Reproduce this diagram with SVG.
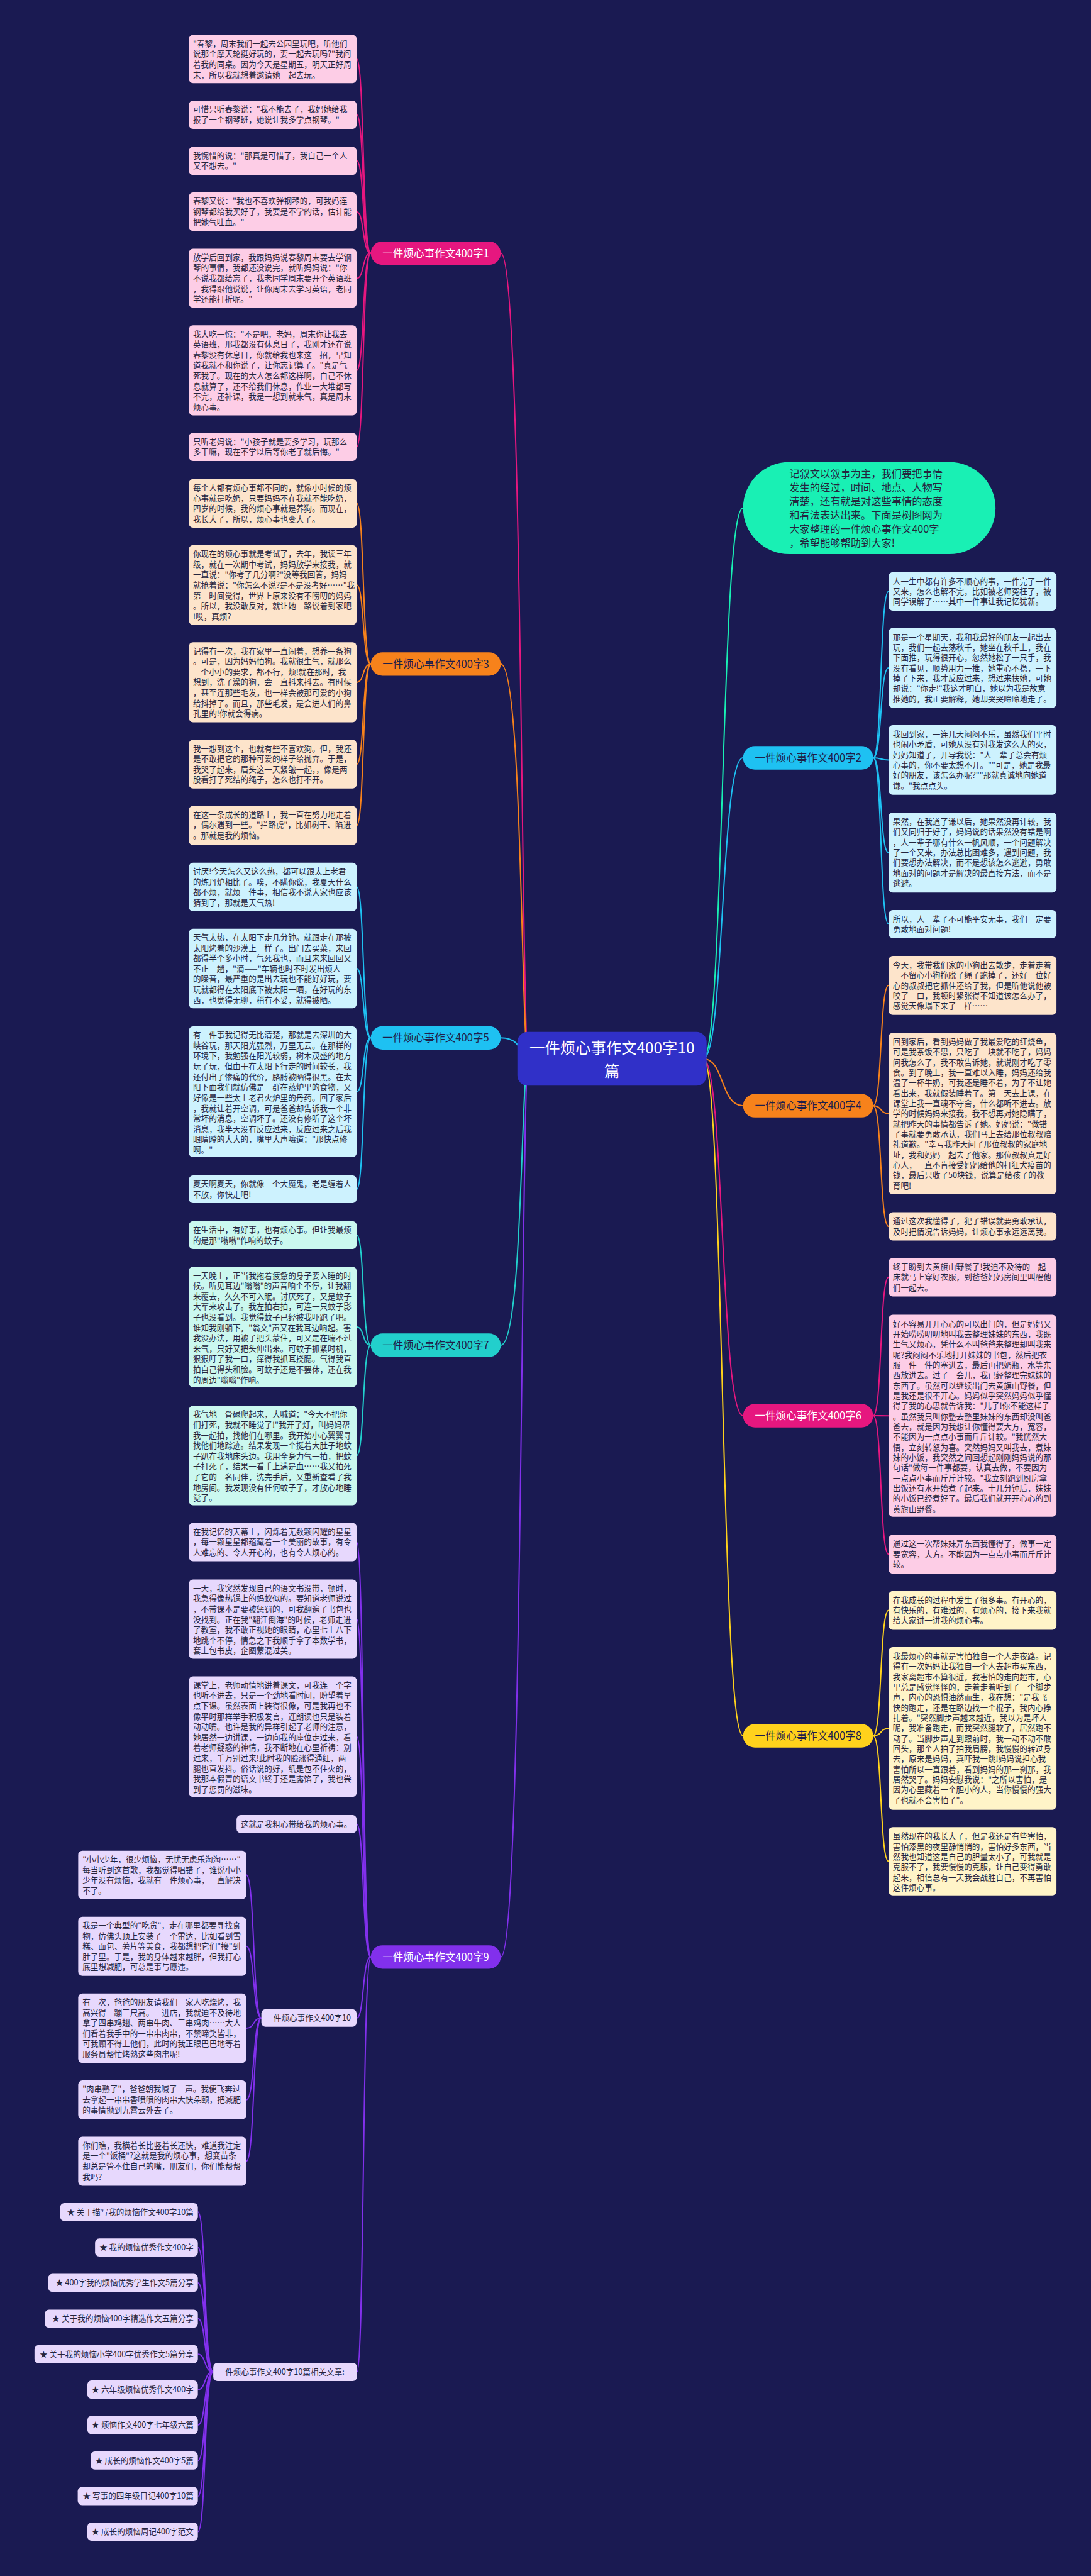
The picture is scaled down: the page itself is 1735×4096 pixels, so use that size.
<svg xmlns="http://www.w3.org/2000/svg" width="1735" height="4096" viewBox="0 0 1735 4096">
<style>
.t{font-family:"Noto Sans CJK SC","Noto Sans CJK JP",sans-serif;font-size:18.6px;fill:#25253e}
.bt{font-family:"Noto Sans CJK SC","Noto Sans CJK JP",sans-serif;font-size:24.5px;text-anchor:middle}
.st{font-family:"Noto Sans CJK SC","Noto Sans CJK JP",sans-serif;font-size:18.6px;fill:#25253e;text-anchor:end}
.w{fill:#ffffff}
.d{fill:#1f1f4a}
.c path{fill:none;stroke-width:3}
.pk rect{fill:#fdcde6}
.pe rect{fill:#fde4cb}
.bl rect{fill:#cdf2fe}
.mi rect{fill:#cbf8ef}
.cr rect{fill:#fff4c8}
.lv rect{fill:#e7d8fd}
</style>
<rect x="0" y="0" width="1735" height="4096" fill="#1a1a52"/>
<g transform="scale(0.67773)">
<g id="connectors" class="c">
<path stroke="#e6177f" d="M1240,2484 C1222,2484 1228,594 1175,594"/>
<path stroke="#f7821b" d="M1240,2484 C1222,2484 1228,1558 1175,1558"/>
<path stroke="#1ec1f2" d="M1240,2484 C1222,2484 1228,2435 1175,2435"/>
<path stroke="#22cfcc" d="M1240,2484 C1222,2484 1228,3156 1175,3156"/>
<path stroke="#8230ec" d="M1240,2484 C1222,2484 1228,4591.5 1175,4591.5"/>
<path stroke="#19f0b4" d="M1650,2484 C1700,2484 1690,1192 1743.6,1192"/>
<path stroke="#1ec1f2" d="M1650,2484 C1700,2484 1690,1778 1743.6,1778"/>
<path stroke="#f7821b" d="M1650,2484 C1700,2484 1690,2594.3 1743.6,2594.3"/>
<path stroke="#e6177f" d="M1650,2484 C1700,2484 1690,3321.5 1743.6,3321.5"/>
<path stroke="#ffd21c" d="M1650,2484 C1700,2484 1690,4072.5 1743.6,4072.5"/>
<g stroke="#e6177f">
<path d="M870,594 C850,594 855,138.5 837,138.5"/>
<path d="M870,594 C850,594 855,269.3 837,269.3"/>
<path d="M870,594 C850,594 855,377.5 837,377.5"/>
<path d="M870,594 C850,594 855,496.8 837,496.8"/>
<path d="M870,594 C850,594 855,652.9 837,652.9"/>
<path d="M870,594 C850,594 855,868.9 837,868.9"/>
<path d="M870,594 C850,594 855,1048.6 837,1048.6"/>
</g>
<g stroke="#f7821b">
<path d="M870,1558 C850,1558 855,1181 837,1181"/>
<path d="M870,1558 C850,1558 855,1372.5 837,1372.5"/>
<path d="M870,1558 C850,1558 855,1600.8 837,1600.8"/>
<path d="M870,1558 C850,1558 855,1792.9 837,1792.9"/>
<path d="M870,1558 C850,1558 855,1936.8 837,1936.8"/>
</g>
<g stroke="#1ec1f2">
<path d="M870,2435 C850,2435 855,2081 837,2081"/>
<path d="M870,2435 C850,2435 855,2272.4 837,2272.4"/>
<path d="M870,2435 C850,2435 855,2561.4 837,2561.4"/>
<path d="M870,2435 C850,2435 855,2790.1 837,2790.1"/>
</g>
<g stroke="#22cfcc">
<path d="M870,3156 C850,3156 855,2897.8 837,2897.8"/>
<path d="M870,3156 C850,3156 855,3113.3 837,3113.3"/>
<path d="M870,3156 C850,3156 855,3414.8 837,3414.8"/>
</g>
<g stroke="#8230ec">
<path d="M870,4591.5 C850,4591.5 855,3618 837,3618"/>
<path d="M870,4591.5 C850,4591.5 855,3798.7 837,3798.7"/>
<path d="M870,4591.5 C850,4591.5 855,4074.5 837,4074.5"/>
<path d="M870,4591.5 C850,4591.5 855,4279.6 837,4279.6"/>
<path d="M870,4591.5 C850,4591.5 855,4734.6 837,4734.6"/>
<path d="M870,4591.5 C850,4591.5 855,5564.9 837.7,5564.9"/>
<path d="M613.3,4734.6 C593,4734.6 598,4398.8 578,4398.8"/>
<path d="M613.3,4734.6 C593,4734.6 598,4566.3 578,4566.3"/>
<path d="M613.3,4734.6 C593,4734.6 598,4758.5 578,4758.5"/>
<path d="M613.3,4734.6 C593,4734.6 598,4926.5 578,4926.5"/>
<path d="M613.3,4734.6 C593,4734.6 598,5070.5 578,5070.5"/>
<path d="M500.4,5564.9 C478,5564.9 484,5189.7 464.3,5189.7"/>
<path d="M500.4,5564.9 C478,5564.9 484,5273 464.3,5273"/>
<path d="M500.4,5564.9 C478,5564.9 484,5356 464.3,5356"/>
<path d="M500.4,5564.9 C478,5564.9 484,5440 464.3,5440"/>
<path d="M500.4,5564.9 C478,5564.9 484,5523.3 464.3,5523.3"/>
<path d="M500.4,5564.9 C478,5564.9 484,5606.4 464.3,5606.4"/>
<path d="M500.4,5564.9 C478,5564.9 484,5689.5 464.3,5689.5"/>
<path d="M500.4,5564.9 C478,5564.9 484,5772.7 464.3,5772.7"/>
<path d="M500.4,5564.9 C478,5564.9 484,5856.3 464.3,5856.3"/>
<path d="M500.4,5564.9 C478,5564.9 484,5939.7 464.3,5939.7"/>
</g>
<g stroke="#1ec1f2">
<path d="M2049,1778 C2070,1778 2064,1387.5 2085,1387.5"/>
<path d="M2049,1778 C2070,1778 2064,1567.1 2085,1567.1"/>
<path d="M2049,1778 C2070,1778 2064,1783.1 2085,1783.1"/>
<path d="M2049,1778 C2070,1778 2064,2000.1 2085,2000.1"/>
<path d="M2049,1778 C2070,1778 2064,2168 2085,2168"/>
</g>
<g stroke="#f7821b">
<path d="M2049,2594.3 C2070,2594.3 2064,2311.9 2085,2311.9"/>
<path d="M2049,2594.3 C2070,2594.3 2064,2612.5 2085,2612.5"/>
<path d="M2049,2594.3 C2070,2594.3 2064,2877.3 2085,2877.3"/>
</g>
<g stroke="#e6177f">
<path d="M2049,3321.5 C2070,3321.5 2064,2996.6 2085,2996.6"/>
<path d="M2049,3321.5 C2070,3321.5 2064,3321.6 2085,3321.6"/>
<path d="M2049,3321.5 C2070,3321.5 2064,3646.4 2085,3646.4"/>
</g>
<g stroke="#ffd21c">
<path d="M2049,4072.5 C2070,4072.5 2064,3778.2 2085,3778.2"/>
<path d="M2049,4072.5 C2070,4072.5 2064,4055.3 2085,4055.3"/>
<path d="M2049,4072.5 C2070,4072.5 2064,4366.8 2085,4366.8"/>
</g>
</g>

<g id="center">
<rect x="1214" y="2421" width="444" height="126" rx="24" fill="#3030c8"/>
<text class="bt w" style="font-size:36px" x="1436" y="2472">一件烦心事作文400字10</text>
<text class="bt w" style="font-size:36px" x="1436" y="2526">篇</text>
</g>

<g id="intro">
<rect x="1743.6" y="1084" width="592.4" height="216" rx="108" fill="#19f0b4"/>
<text class="t" style="font-size:24px" x="1852" y="1120.5"><tspan x="1852">记叙文以叙事为主，我们要把事情</tspan><tspan x="1852" dy="32.3">发生的经过，时间、地点、人物写</tspan><tspan x="1852" dy="32.3">清楚，还有就是对这些事情的态度</tspan><tspan x="1852" dy="32.3">和看法表达出来。下面是树图网为</tspan><tspan x="1852" dy="32.3">大家整理的一件烦心事作文400字</tspan><tspan x="1852" dy="32.3">，希望能够帮助到大家!</tspan></text>
</g>

<g id="b1"><rect x="870" y="566.5" width="305" height="55" rx="27.5" fill="#e6177f"/><text class="bt w" x="1022.5" y="603">一件烦心事作文400字1</text></g>
<g id="b3"><rect x="870" y="1530.5" width="305" height="55" rx="27.5" fill="#f7821b"/><text class="bt d" x="1022.5" y="1567">一件烦心事作文400字3</text></g>
<g id="b5"><rect x="870" y="2407.5" width="305" height="55" rx="27.5" fill="#1ec1f2"/><text class="bt d" x="1022.5" y="2444">一件烦心事作文400字5</text></g>
<g id="b7"><rect x="870" y="3128.5" width="305" height="55" rx="27.5" fill="#22cfcc"/><text class="bt d" x="1022.5" y="3165">一件烦心事作文400字7</text></g>
<g id="b9"><rect x="870" y="4564" width="305" height="55" rx="27.5" fill="#8230ec"/><text class="bt w" x="1022.5" y="4600.5">一件烦心事作文400字9</text></g>
<g id="b2"><rect x="1743.6" y="1750.5" width="305.4" height="55" rx="27.5" fill="#1ec1f2"/><text class="bt d" x="1896.3" y="1787">一件烦心事作文400字2</text></g>
<g id="b4"><rect x="1743.6" y="2566.8" width="305.4" height="55" rx="27.5" fill="#f7821b"/><text class="bt d" x="1896.3" y="2603.3">一件烦心事作文400字4</text></g>
<g id="b6"><rect x="1743.6" y="3294" width="305.4" height="55" rx="27.5" fill="#e6177f"/><text class="bt w" x="1896.3" y="3330.5">一件烦心事作文400字6</text></g>
<g id="b8"><rect x="1743.6" y="4045" width="305.4" height="55" rx="27.5" fill="#ffd21c"/><text class="bt d" x="1896.3" y="4081.5">一件烦心事作文400字8</text></g>

<g id="l1-1" class="pk"><rect x="443" y="82" width="394" height="113" rx="10"/><text class="t" x="453" y="109"><tspan x="453">"春黎，周末我们一起去公园里玩吧，听他们</tspan><tspan x="453" dy="24.5">说那个摩天轮挺好玩的，要一起去玩吗?"我问</tspan><tspan x="453" dy="24.5">着我的同桌。因为今天是星期五，明天正好周</tspan><tspan x="453" dy="24.5">末，所以我就想着邀请她一起去玩。</tspan></text></g>
<g id="l1-2" class="pk"><rect x="443" y="236" width="394" height="66.5" rx="10"/><text class="t" x="453" y="263"><tspan x="453">可惜只听春黎说："我不能去了，我妈她给我</tspan><tspan x="453" dy="24.5">报了一个钢琴班，她说让我多学点钢琴。"</tspan></text></g>
<g id="l1-3" class="pk"><rect x="443" y="344.5" width="394" height="66" rx="10"/><text class="t" x="453" y="371.5"><tspan x="453">我惋惜的说："那真是可惜了，我自己一个人</tspan><tspan x="453" dy="24.5">又不想去。"</tspan></text></g>
<g id="l1-4" class="pk"><rect x="443" y="451.6" width="394" height="90.4" rx="10"/><text class="t" x="453" y="478.6"><tspan x="453">春黎又说："我也不喜欢弹钢琴的，可我妈连</tspan><tspan x="453" dy="24.5">钢琴都给我买好了，我要是不学的话，估计能</tspan><tspan x="453" dy="24.5">把她气吐血。"</tspan></text></g>
<g id="l1-5" class="pk"><rect x="443" y="583.7" width="394" height="138.3" rx="10"/><text class="t" x="453" y="610.7"><tspan x="453">放学后回到家，我跟妈妈说春黎周末要去学钢</tspan><tspan x="453" dy="24.5">琴的事情，我都还没说完，就听妈妈说："你</tspan><tspan x="453" dy="24.5">不说我都给忘了，我老同学周末要开个英语班</tspan><tspan x="453" dy="24.5">，我得跟他说说，让你周末去学习英语，老同</tspan><tspan x="453" dy="24.5">学还能打折呢。"</tspan></text></g>
<g id="l1-6" class="pk"><rect x="443" y="763.3" width="394" height="211.2" rx="10"/><text class="t" x="453" y="790.3"><tspan x="453">我大吃一惊："不是吧，老妈，周末你让我去</tspan><tspan x="453" dy="24.5">英语班，那我都没有休息日了，我刚才还在说</tspan><tspan x="453" dy="24.5">春黎没有休息日，你就给我也来这一招，早知</tspan><tspan x="453" dy="24.5">道我就不和你说了，让你忘记算了。"真是气</tspan><tspan x="453" dy="24.5">死我了。现在的大人怎么都这样啊，自己不休</tspan><tspan x="453" dy="24.5">息就算了，还不给我们休息，作业一大堆都写</tspan><tspan x="453" dy="24.5">不完，还补课，我是一想到就来气，真是周末</tspan><tspan x="453" dy="24.5">烦心事。</tspan></text></g>
<g id="l1-7" class="pk"><rect x="443" y="1015.5" width="394" height="66.1" rx="10"/><text class="t" x="453" y="1042.5"><tspan x="453">只听老妈说："小孩子就是要多学习，玩那么</tspan><tspan x="453" dy="24.5">多干嘛，现在不学以后等你老了就后悔。"</tspan></text></g>

<g id="l3-1" class="pe"><rect x="443" y="1124" width="394" height="114" rx="10"/><text class="t" x="453" y="1151"><tspan x="453">每个人都有烦心事都不同的，就像小时候的烦</tspan><tspan x="453" dy="24.5">心事就是吃奶，只要妈妈不在我就不能吃奶，</tspan><tspan x="453" dy="24.5">四岁的时候，我的烦心事就是养狗。而现在，</tspan><tspan x="453" dy="24.5">我长大了，所以，烦心事也变大了。</tspan></text></g>
<g id="l3-2" class="pe"><rect x="443" y="1279" width="394" height="187" rx="10"/><text class="t" x="453" y="1306"><tspan x="453">你现在的烦心事就是考试了，去年，我读三年</tspan><tspan x="453" dy="24.5">级，就在一次期中考试，妈妈放学来接我，就</tspan><tspan x="453" dy="24.5">一直说："你考了几分啊?"没等我回答，妈妈</tspan><tspan x="453" dy="24.5">就抢着说："你怎么不说?是不是没考好……"我</tspan><tspan x="453" dy="24.5">第一时间觉得，世界上原来没有不唠叨的妈妈</tspan><tspan x="453" dy="24.5">。所以，我没敢反对，就让她一路说着到家吧</tspan><tspan x="453" dy="24.5">!哎，真烦?</tspan></text></g>
<g id="l3-3" class="pe"><rect x="443" y="1507" width="394" height="187.6" rx="10"/><text class="t" x="453" y="1534"><tspan x="453">记得有一次，我在家里一直闹着，想养一条狗</tspan><tspan x="453" dy="24.5">。可是，因为妈妈怕狗。我就很生气，就那么</tspan><tspan x="453" dy="24.5">一个小小的要求，都不行，烦!就在那时，我</tspan><tspan x="453" dy="24.5">想到，洗了澡的狗，会一直抖来抖去。有时候</tspan><tspan x="453" dy="24.5">，甚至连那些毛发，也一样会被那可爱的小狗</tspan><tspan x="453" dy="24.5">给抖掉了。而且，那些毛发，是会进人们的鼻</tspan><tspan x="453" dy="24.5">孔里的!你就会得病。</tspan></text></g>
<g id="l3-4" class="pe"><rect x="443" y="1735.7" width="394" height="114.3" rx="10"/><text class="t" x="453" y="1762.7"><tspan x="453">我一想到这个，也就有些不喜欢狗。但，我还</tspan><tspan x="453" dy="24.5">是不敢把它的那种可爱的样子给抛弃。于是，</tspan><tspan x="453" dy="24.5">我哭了起来，眉头这一天紧皱一起，，像是两</tspan><tspan x="453" dy="24.5">股看打了死结的绳子，怎么也打不开。</tspan></text></g>
<g id="l3-5" class="pe"><rect x="443" y="1891" width="394" height="91.6" rx="10"/><text class="t" x="453" y="1918"><tspan x="453">在这一条成长的道路上，我一直在努力地走着</tspan><tspan x="453" dy="24.5">，偶尔遇到一些。"拦路虎"，比如树干、陷进</tspan><tspan x="453" dy="24.5">。那就是我的烦恼。</tspan></text></g>

<g id="l5-1" class="bl"><rect x="443" y="2024" width="394" height="114" rx="10"/><text class="t" x="453" y="2051"><tspan x="453">讨厌!今天怎么又这么热，都可以跟太上老君</tspan><tspan x="453" dy="24.5">的炼丹炉相比了。唉，不瞒你说，我夏天什么</tspan><tspan x="453" dy="24.5">都不烦，就烦一件事，相信我不说大家也应该</tspan><tspan x="453" dy="24.5">猜到了，那就是天气热!</tspan></text></g>
<g id="l5-2" class="bl"><rect x="443" y="2179" width="394" height="186.7" rx="10"/><text class="t" x="453" y="2206"><tspan x="453">天气太热，在太阳下走几分钟。就跟走在那被</tspan><tspan x="453" dy="24.5">太阳烤着的沙漠上一样了。出门去买菜，来回</tspan><tspan x="453" dy="24.5">都得半个多小时，气死我也，而且来来回回又</tspan><tspan x="453" dy="24.5">不止一趟，"滴——"车辆也时不时发出烦人</tspan><tspan x="453" dy="24.5">的噪音，最严重的是出去玩也不能好好玩，要</tspan><tspan x="453" dy="24.5">玩就都得在太阳底下被太阳一晒，在好玩的东</tspan><tspan x="453" dy="24.5">西，也觉得无聊，稍有不妥，就得被晒。</tspan></text></g>
<g id="l5-3" class="bl"><rect x="443" y="2408" width="394" height="306.8" rx="10"/><text class="t" x="453" y="2435"><tspan x="453">有一件事我记得无比清楚，那就是去深圳的大</tspan><tspan x="453" dy="24.5">峡谷玩，那天阳光强烈，万里无云。在那样的</tspan><tspan x="453" dy="24.5">环境下，我勉强在阳光较弱，树木茂盛的地方</tspan><tspan x="453" dy="24.5">玩了玩，但由于在太阳下行走的时间较长，我</tspan><tspan x="453" dy="24.5">还付出了惨痛的代价，胳膊被晒得很黑。在太</tspan><tspan x="453" dy="24.5">阳下面我们就仿佛是一群在蒸炉里的食物，又</tspan><tspan x="453" dy="24.5">好像是一些太上老君火炉里的丹药。回了家后</tspan><tspan x="453" dy="24.5">，我就让着开空调，可是爸爸却告诉我一个非</tspan><tspan x="453" dy="24.5">常坏的消息，空调坏了。还没有修听了这个坏</tspan><tspan x="453" dy="24.5">消息，我半天没有反应过来，反应过来之后我</tspan><tspan x="453" dy="24.5">眼睛瞪的大大的，嘴里大声嚷道："那快点修</tspan><tspan x="453" dy="24.5">啊。"</tspan></text></g>
<g id="l5-4" class="bl"><rect x="443" y="2757.7" width="394" height="64.8" rx="10"/><text class="t" x="453" y="2784.7"><tspan x="453">夏天啊夏天，你就像一个大魔鬼，老是缠着人</tspan><tspan x="453" dy="24.5">不放，你快走吧!</tspan></text></g>

<g id="l7-1" class="mi"><rect x="443" y="2865" width="394" height="65.5" rx="10"/><text class="t" x="453" y="2892"><tspan x="453">在生活中，有好事，也有烦心事。但让我最烦</tspan><tspan x="453" dy="24.5">的是那"嗡嗡"作响的蚊子。</tspan></text></g>
<g id="l7-2" class="mi"><rect x="443" y="2972" width="394" height="282.6" rx="10"/><text class="t" x="453" y="2999"><tspan x="453">一天晚上，正当我拖着疲惫的身子要入睡的时</tspan><tspan x="453" dy="24.5">候。听见耳边"嗡嗡"的声音响个不停，让我翻</tspan><tspan x="453" dy="24.5">来覆去，久久不可入眠。讨厌死了，又是蚊子</tspan><tspan x="453" dy="24.5">大军来攻击了。我左拍右拍，可连一只蚊子影</tspan><tspan x="453" dy="24.5">子也没看到。我觉得蚊子已经被我吓跑了吧。</tspan><tspan x="453" dy="24.5">谁知我刚躺下，"翁文"声又在我耳边响起。害</tspan><tspan x="453" dy="24.5">我没办法，用被子把头蒙住，可又是在喘不过</tspan><tspan x="453" dy="24.5">来气，只好又把头伸出来。可蚊子抓紧时机，</tspan><tspan x="453" dy="24.5">狠狠叮了我一口，痒得我抓耳挠腮。气得我直</tspan><tspan x="453" dy="24.5">拍自己得头和脸。可蚊子还是不罢休，还在我</tspan><tspan x="453" dy="24.5">的周边"嗡嗡"作响。</tspan></text></g>
<g id="l7-3" class="mi"><rect x="443" y="3298" width="394" height="233.5" rx="10"/><text class="t" x="453" y="3325"><tspan x="453">我气地一骨碌爬起来，大喊道："今天不把你</tspan><tspan x="453" dy="24.5">们打死，我就不睡觉了!"我开了灯，叫妈妈帮</tspan><tspan x="453" dy="24.5">我一起拍，找他们在哪里。我开始小心翼翼寻</tspan><tspan x="453" dy="24.5">找他们地踪迹。结果发现一个挺着大肚子地蚊</tspan><tspan x="453" dy="24.5">子趴在我地床头边。我用全身力气一拍，把蚊</tspan><tspan x="453" dy="24.5">子打死了，结果一看手上满是血……我又拍死</tspan><tspan x="453" dy="24.5">了它的一名同伴，洗完手后，又重新查看了我</tspan><tspan x="453" dy="24.5">地房间。我发现没有任何蚊子了，才放心地睡</tspan><tspan x="453" dy="24.5">觉了。</tspan></text></g>

<g id="l9-1" class="lv"><rect x="443" y="3573" width="394" height="90" rx="10"/><text class="t" x="453" y="3600"><tspan x="453">在我记忆的天幕上，闪烁着无数颗闪耀的星星</tspan><tspan x="453" dy="24.5">，每一颗星星都蕴藏着一个美丽的故事，有令</tspan><tspan x="453" dy="24.5">人难忘的、令人开心的，也有令人烦心的。</tspan></text></g>
<g id="l9-2" class="lv"><rect x="443" y="3705.6" width="394" height="186.2" rx="10"/><text class="t" x="453" y="3732.6"><tspan x="453">一天，我突然发现自己的语文书没带，顿时，</tspan><tspan x="453" dy="24.5">我急得像热锅上的蚂蚁似的。要知道老师说过</tspan><tspan x="453" dy="24.5">，不带课本是要被惩罚的，可我翻遍了书包也</tspan><tspan x="453" dy="24.5">没找到。正在我"翻江倒海"的时候，老师走进</tspan><tspan x="453" dy="24.5">了教室，我不敢正视她的眼睛，心里七上八下</tspan><tspan x="453" dy="24.5">地跳个不停，情急之下我顺手拿了本数学书，</tspan><tspan x="453" dy="24.5">套上包书皮，企图蒙混过关。</tspan></text></g>
<g id="l9-3" class="lv"><rect x="443" y="3933" width="394" height="283" rx="10"/><text class="t" x="453" y="3960"><tspan x="453">课堂上，老师动情地讲着课文，可我连一个字</tspan><tspan x="453" dy="24.5">也听不进去，只是一个劲地看时间，盼望着早</tspan><tspan x="453" dy="24.5">点下课。虽然表面上装得很像，可是我再也不</tspan><tspan x="453" dy="24.5">像平时那样举手积极发言，连朗读也只是装着</tspan><tspan x="453" dy="24.5">动动嘴。也许是我的异样引起了老师的注意，</tspan><tspan x="453" dy="24.5">她居然一边讲课，一边向我的座位走过来，看</tspan><tspan x="453" dy="24.5">着老师疑惑的神情，我不断地在心里祈祷：别</tspan><tspan x="453" dy="24.5">过来，千万别过来!此时我的脸涨得通红，两</tspan><tspan x="453" dy="24.5">腿也直发抖。俗话说的好，纸是包不住火的，</tspan><tspan x="453" dy="24.5">我那本假冒的语文书终于还是露馅了，我也尝</tspan><tspan x="453" dy="24.5">到了惩罚的滋味。</tspan></text></g>
<g id="l9-4" class="lv"><rect x="555" y="4258.4" width="282" height="42.4" rx="10"/><text class="t" x="565" y="4286">这就是我粗心带给我的烦心事。</text></g>
<g id="b10" class="lv"><rect x="613.3" y="4713.8" width="223.4" height="41.5" rx="10"/><text class="t" x="623" y="4741">一件烦心事作文400字10</text></g>

<g id="l10-1" class="lv"><rect x="183.5" y="4341.9" width="394.5" height="113.8" rx="10"/><text class="t" x="193.5" y="4368.9"><tspan x="193.5">"小小少年，很少烦恼，无忧无虑乐淘淘……"</tspan><tspan x="193.5" dy="24.5">每当听到这首歌，我都觉得唱错了，谁说小小</tspan><tspan x="193.5" dy="24.5">少年没有烦恼，我就有一件烦心事，一直解决</tspan><tspan x="193.5" dy="24.5">不了。</tspan></text></g>
<g id="l10-2" class="lv"><rect x="183.5" y="4497" width="394.5" height="138.6" rx="10"/><text class="t" x="193.5" y="4524"><tspan x="193.5">我是一个典型的"吃货"，走在哪里都要寻找食</tspan><tspan x="193.5" dy="24.5">物，仿佛头顶上安装了一个雷达，比如看到雪</tspan><tspan x="193.5" dy="24.5">糕、面包、薯片等美食，我都想把它们"接"到</tspan><tspan x="193.5" dy="24.5">肚子里。于是，我的身体越来越胖，但我打心</tspan><tspan x="193.5" dy="24.5">底里想减肥，可总是事与愿违。</tspan></text></g>
<g id="l10-3" class="lv"><rect x="183.5" y="4677" width="394.5" height="163" rx="10"/><text class="t" x="193.5" y="4704"><tspan x="193.5">有一次，爸爸的朋友请我们一家人吃烧烤，我</tspan><tspan x="193.5" dy="24.5">高兴得一蹦三尺高。一进店，我就迫不及待地</tspan><tspan x="193.5" dy="24.5">拿了四串鸡翅、两串牛肉、三串鸡肉……大人</tspan><tspan x="193.5" dy="24.5">们看着我手中的一串串肉串，不禁啼笑皆非，</tspan><tspan x="193.5" dy="24.5">可我顾不得上他们，此时的我正眼巴巴地等着</tspan><tspan x="193.5" dy="24.5">服务员帮忙烤熟这些肉串呢!</tspan></text></g>
<g id="l10-4" class="lv"><rect x="183.5" y="4881" width="394.5" height="91" rx="10"/><text class="t" x="193.5" y="4908"><tspan x="193.5">"肉串熟了"，爸爸朝我喊了一声。我便飞奔过</tspan><tspan x="193.5" dy="24.5">去拿起一串串香喷喷的肉串大快朵颐，把减肥</tspan><tspan x="193.5" dy="24.5">的事情抛到九霄云外去了。</tspan></text></g>
<g id="l10-5" class="lv"><rect x="183.5" y="5013" width="394.5" height="115" rx="10"/><text class="t" x="193.5" y="5040"><tspan x="193.5">你们瞧，我横着长比竖着长还快，难道我注定</tspan><tspan x="193.5" dy="24.5">是一个"饭桶"?这就是我的烦心事，想变苗条</tspan><tspan x="193.5" dy="24.5">却总是管不住自己的嘴，朋友们，你们能帮帮</tspan><tspan x="193.5" dy="24.5">我吗?</tspan></text></g>

<g id="related" class="lv"><rect x="500.4" y="5543.5" width="337.3" height="42.7" rx="10"/><text class="t" x="510" y="5571.5">一件烦心事作文400字10篇相关文章:</text></g>
<g id="s1" class="lv"><rect x="141" y="5168.7" width="323.3" height="42" rx="10"/><text class="st" x="454.3" y="5196.2">★ 关于描写我的烦恼作文400字10篇</text></g>
<g id="s2" class="lv"><rect x="223" y="5251.8" width="241.3" height="42.4" rx="10"/><text class="st" x="454.3" y="5279.5">★ 我的烦恼优秀作文400字</text></g>
<g id="s3" class="lv"><rect x="113" y="5334.8" width="351.3" height="42.4" rx="10"/><text class="st" x="454.3" y="5362.5">★ 400字我的烦恼优秀学生作文5篇分享</text></g>
<g id="s4" class="lv"><rect x="105" y="5418.8" width="359.3" height="42.4" rx="10"/><text class="st" x="454.3" y="5446.5">★ 关于我的烦恼400字精选作文五篇分享</text></g>
<g id="s5" class="lv"><rect x="80.9" y="5502" width="383.4" height="42.6" rx="10"/><text class="st" x="454.3" y="5529.8">★ 关于我的烦恼小学400字优秀作文5篇分享</text></g>
<g id="s6" class="lv"><rect x="204.9" y="5585" width="259.4" height="42.8" rx="10"/><text class="st" x="454.3" y="5612.9">★ 六年级烦恼优秀作文400字</text></g>
<g id="s7" class="lv"><rect x="204.9" y="5668" width="259.4" height="43" rx="10"/><text class="st" x="454.3" y="5696">★ 烦恼作文400字七年级六篇</text></g>
<g id="s8" class="lv"><rect x="212.7" y="5751.4" width="251.6" height="42.6" rx="10"/><text class="st" x="454.3" y="5779.2">★ 成长的烦恼作文400字5篇</text></g>
<g id="s9" class="lv"><rect x="182.4" y="5835" width="281.9" height="42.6" rx="10"/><text class="st" x="454.3" y="5862.8">★ 写事的四年级日记400字10篇</text></g>
<g id="s10" class="lv"><rect x="204.9" y="5918.4" width="259.4" height="42.6" rx="10"/><text class="st" x="454.3" y="5946.2">★ 成长的烦恼周记400字范文</text></g>

<g id="r2-1" class="bl"><rect x="2085" y="1342.2" width="394" height="90.5" rx="10"/><text class="t" x="2095" y="1370.2"><tspan x="2095">人一生中都有许多不顺心的事，一件完了一件</tspan><tspan x="2095" dy="24.1">又来，怎么也解不完，比如被老师冤枉了，被</tspan><tspan x="2095" dy="24.1">同学误解了……其中一件事让我记忆犹新。</tspan></text></g>
<g id="r2-2" class="bl"><rect x="2085" y="1473.4" width="394" height="187.3" rx="10"/><text class="t" x="2095" y="1501.4"><tspan x="2095">那是一个星期天，我和我最好的朋友一起出去</tspan><tspan x="2095" dy="24.1">玩，我们一起去荡秋千，她坐在秋千上，我在</tspan><tspan x="2095" dy="24.1">下面推，玩得很开心，忽然她松了一只手，我</tspan><tspan x="2095" dy="24.1">没有看见，顺势用力一推，她重心不稳，一下</tspan><tspan x="2095" dy="24.1">掉了下来，我才反应过来，想过来扶她，可她</tspan><tspan x="2095" dy="24.1">却说："你走!"我这才明白，她以为我是故意</tspan><tspan x="2095" dy="24.1">推她的，我正要解释，她却哭哭啼啼地走了。</tspan></text></g>
<g id="r2-3" class="bl"><rect x="2085" y="1701.4" width="394" height="163.4" rx="10"/><text class="t" x="2095" y="1729.4"><tspan x="2095">我回到家，一连几天闷闷不乐，虽然我们平时</tspan><tspan x="2095" dy="24.1">也闹小矛盾，可她从没有对我发这么大的火，</tspan><tspan x="2095" dy="24.1">妈妈知道了，开导我说："人一辈子总会有烦</tspan><tspan x="2095" dy="24.1">心事的，你不要太想不开。""可是，她是我最</tspan><tspan x="2095" dy="24.1">好的朋友，该怎么办呢?""那就真诚地向她道</tspan><tspan x="2095" dy="24.1">谦。"我点点头。</tspan></text></g>
<g id="r2-4" class="bl"><rect x="2085" y="1906.2" width="394" height="187.8" rx="10"/><text class="t" x="2095" y="1934.2"><tspan x="2095">果然，在我道了谦以后，她果然没再计较，我</tspan><tspan x="2095" dy="24.1">们又同归于好了，妈妈说的话果然没有错是啊</tspan><tspan x="2095" dy="24.1">，人一辈子哪有什么一帆风顺，一个问题解决</tspan><tspan x="2095" dy="24.1">了一个又来，办法总比困难多，遇到问题，我</tspan><tspan x="2095" dy="24.1">们要想办法解决，而不是想该怎么逃避，勇敢</tspan><tspan x="2095" dy="24.1">地面对的问题才是解决的最直接方法，而不是</tspan><tspan x="2095" dy="24.1">逃避。</tspan></text></g>
<g id="r2-5" class="bl"><rect x="2085" y="2135" width="394" height="66" rx="10"/><text class="t" x="2095" y="2163"><tspan x="2095">所以，人一辈子不可能平安无事，我们一定要</tspan><tspan x="2095" dy="24.1">勇敢地面对问题!</tspan></text></g>

<g id="r4-1" class="pe"><rect x="2085" y="2242.8" width="394" height="138.2" rx="10"/><text class="t" x="2095" y="2270.8"><tspan x="2095">今天，我带我们家的小狗出去散步，走着走着</tspan><tspan x="2095" dy="24.1">一不留心小狗挣脱了绳子跑掉了，还好一位好</tspan><tspan x="2095" dy="24.1">心的叔叔把它抓住还给了我，但是听他说他被</tspan><tspan x="2095" dy="24.1">咬了一口，我顿时紧张得不知道该怎么办了，</tspan><tspan x="2095" dy="24.1">感觉天像塌下来了一样……</tspan></text></g>
<g id="r4-2" class="pe"><rect x="2085" y="2423" width="394" height="379" rx="10"/><text class="t" x="2095" y="2451"><tspan x="2095">回到家后，看到妈妈做了我最爱吃的红烧鱼，</tspan><tspan x="2095" dy="24.1">可是我茶饭不思，只吃了一块就不吃了，妈妈</tspan><tspan x="2095" dy="24.1">问我怎么了，我不敢告诉她，就说刚才吃了零</tspan><tspan x="2095" dy="24.1">食。到了晚上，我一直难以入睡，妈妈还给我</tspan><tspan x="2095" dy="24.1">温了一杯牛奶，可我还是睡不着，为了不让她</tspan><tspan x="2095" dy="24.1">看出来，我就假装睡着了。第二天去上课，在</tspan><tspan x="2095" dy="24.1">课堂上我一直魂不守舍，什么都听不进去。放</tspan><tspan x="2095" dy="24.1">学的时候妈妈来接我，我不想再对她隐瞒了，</tspan><tspan x="2095" dy="24.1">就把昨天的事情都告诉了她。妈妈说："做错</tspan><tspan x="2095" dy="24.1">了事就要勇敢承认，我们马上去给那位叔叔赔</tspan><tspan x="2095" dy="24.1">礼道歉。"幸亏我昨天问了那位叔叔的家庭地</tspan><tspan x="2095" dy="24.1">址，我和妈妈一起去了他家。那位叔叔真是好</tspan><tspan x="2095" dy="24.1">心人，一直不肯接受妈妈给他的打狂犬疫苗的</tspan><tspan x="2095" dy="24.1">钱，最后只收了50块钱，说算是给孩子的教</tspan><tspan x="2095" dy="24.1">育吧!</tspan></text></g>
<g id="r4-3" class="pe"><rect x="2085" y="2844" width="394" height="66.6" rx="10"/><text class="t" x="2095" y="2872"><tspan x="2095">通过这次我懂得了，犯了错误就要勇敢承认，</tspan><tspan x="2095" dy="24.1">及时把情况告诉妈妈，让烦心事永远远离我。</tspan></text></g>

<g id="r6-1" class="pk"><rect x="2085" y="2951.3" width="394" height="90.5" rx="10"/><text class="t" x="2095" y="2979.3"><tspan x="2095">终于盼到去黄旗山野餐了!我迫不及待的一起</tspan><tspan x="2095" dy="24.1">床就马上穿好衣服，到爸爸妈妈房间里叫醒他</tspan><tspan x="2095" dy="24.1">们一起去。</tspan></text></g>
<g id="r6-2" class="pk"><rect x="2085" y="3084.6" width="394" height="474" rx="10"/><text class="t" x="2095" y="3112.6"><tspan x="2095">好不容易开开心心的可以出门的，但是妈妈又</tspan><tspan x="2095" dy="24.1">开始唠唠叨叨地叫我去整理妹妹的东西，我既</tspan><tspan x="2095" dy="24.1">生气又烦心，凭什么不叫爸爸来整理却叫我来</tspan><tspan x="2095" dy="24.1">呢?我闷闷不乐地打开妹妹的书包，然后把衣</tspan><tspan x="2095" dy="24.1">服一件一件的塞进去，最后再把奶瓶，水等东</tspan><tspan x="2095" dy="24.1">西放进去。过了一会儿，我已经整理完妹妹的</tspan><tspan x="2095" dy="24.1">东西了。虽然可以继续出门去黄旗山野餐，但</tspan><tspan x="2095" dy="24.1">是我还是很不开心。妈妈似乎突然妈妈似乎懂</tspan><tspan x="2095" dy="24.1">得了我的心思就告诉我："儿子!你不能这样子</tspan><tspan x="2095" dy="24.1">。虽然我只叫你整去整里妹妹的东西却没叫爸</tspan><tspan x="2095" dy="24.1">爸去，就是因为我想让你懂得要大方，宽容，</tspan><tspan x="2095" dy="24.1">不能因为一点点小事而斤斤计较。"我恍然大</tspan><tspan x="2095" dy="24.1">悟，立刻转怒为喜。突然妈妈又叫我去，煮妹</tspan><tspan x="2095" dy="24.1">妹的小饭，我突然之间回想起刚刚妈妈说的那</tspan><tspan x="2095" dy="24.1">句话"做每一件事都要，认真去做，不要因为</tspan><tspan x="2095" dy="24.1">一点点小事而斤斤计较。"我立刻跑到厨房拿</tspan><tspan x="2095" dy="24.1">出饭还有水开始煮了起来。十几分钟后，妹妹</tspan><tspan x="2095" dy="24.1">的小饭已经煮好了。最后我们就开开心心的到</tspan><tspan x="2095" dy="24.1">黄旗山野餐。</tspan></text></g>
<g id="r6-3" class="pk"><rect x="2085" y="3600.8" width="394" height="91.2" rx="10"/><text class="t" x="2095" y="3628.8"><tspan x="2095">通过这一次帮妹妹弄东西我懂得了，做事一定</tspan><tspan x="2095" dy="24.1">要宽容，大方。不能因为一点点小事而斤斤计</tspan><tspan x="2095" dy="24.1">较。</tspan></text></g>

<g id="r8-1" class="cr"><rect x="2085" y="3732.6" width="394" height="91.2" rx="10"/><text class="t" x="2095" y="3760.6"><tspan x="2095">在我成长的过程中发生了很多事。有开心的，</tspan><tspan x="2095" dy="24.1">有快乐的，有难过的，有烦心的，接下来我就</tspan><tspan x="2095" dy="24.1">给大家讲一讲我的烦心事。</tspan></text></g>
<g id="r8-2" class="cr"><rect x="2085" y="3864.5" width="394" height="381.5" rx="10"/><text class="t" x="2095" y="3892.5"><tspan x="2095">我最烦心的事就是害怕独自一个人走夜路。记</tspan><tspan x="2095" dy="24.1">得有一次妈妈让我独自一个人去超市买东西，</tspan><tspan x="2095" dy="24.1">我家离超市不算很近，我害怕的走向超市，心</tspan><tspan x="2095" dy="24.1">里总是感觉怪怪的，走着走着听到了一个脚步</tspan><tspan x="2095" dy="24.1">声，内心的恐惧油然而生，我在想："是我飞</tspan><tspan x="2095" dy="24.1">快的跑走，还是在路边找一个棍子，我内心挣</tspan><tspan x="2095" dy="24.1">扎着。"突然脚步声越来越近，我以为是坏人</tspan><tspan x="2095" dy="24.1">呢，我准备跑走，而我突然腿软了，居然跑不</tspan><tspan x="2095" dy="24.1">动了。当脚步声走到跟前时，我一动不动不敢</tspan><tspan x="2095" dy="24.1">回头，那个人拍了拍我肩膀，我慢慢的转过身</tspan><tspan x="2095" dy="24.1">去，原来是妈妈，真吓我一跳!妈妈说担心我</tspan><tspan x="2095" dy="24.1">害怕所以一直跟着，看到妈妈的那一刹那，我</tspan><tspan x="2095" dy="24.1">居然哭了。妈妈安慰我说："之所以害怕，是</tspan><tspan x="2095" dy="24.1">因为心里藏着一个胆小的人，当你慢慢的强大</tspan><tspan x="2095" dy="24.1">了也就不会害怕了"。</tspan></text></g>
<g id="r8-3" class="cr"><rect x="2085" y="4286.8" width="394" height="160" rx="10"/><text class="t" x="2095" y="4314.8"><tspan x="2095">虽然现在的我长大了，但是我还是有些害怕，</tspan><tspan x="2095" dy="24.1">害怕漆黑的夜里静悄悄的，害怕好多东西，当</tspan><tspan x="2095" dy="24.1">然我也知道这是自己的胆量太小了，可我就是</tspan><tspan x="2095" dy="24.1">克服不了，我要慢慢的克服，让自己变得勇敢</tspan><tspan x="2095" dy="24.1">起来，相信总有一天我会战胜自己，不再害怕</tspan><tspan x="2095" dy="24.1">这件烦心事。</tspan></text></g>
</g>
</svg>
